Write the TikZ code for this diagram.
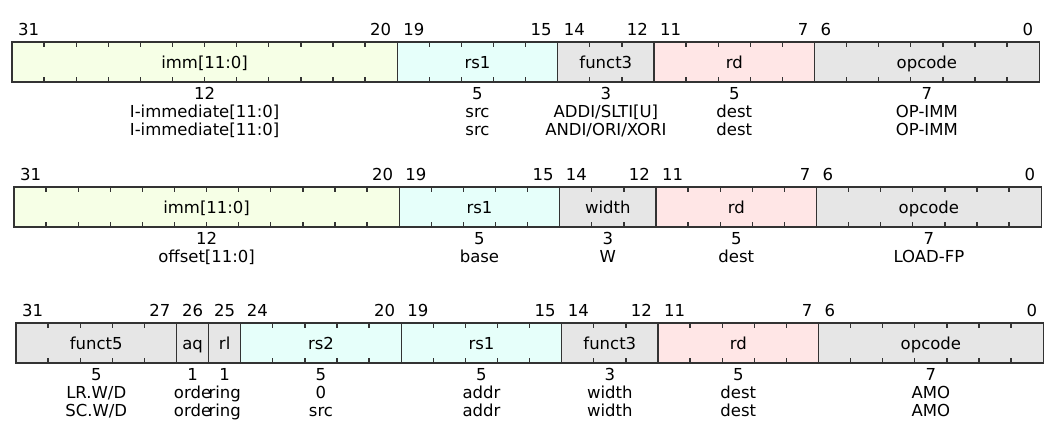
\documentclass[tikz,border=0pt]{standalone}
\usepackage{fontspec}
\setmainfont{DejaVu Sans}
\definecolor{immcol}{RGB}{246,255,230}
\definecolor{regcol}{RGB}{230,255,250}
\definecolor{dstcol}{RGB}{255,230,230}
\definecolor{fixcol}{RGB}{230,230,230}
\tikzset{
  field/.style={draw=black!80, line width=1.3pt, inner sep=0pt, outer sep=0pt,
    minimum height=40pt, text height=12pt, text depth=0pt, anchor=north west},
  bitno/.style={inner sep=0pt},
  desc/.style={align=center, inner sep=0pt, anchor=north, yshift=-5.5pt},
  tick/.style={draw=black!80, line width=1.3pt}
}
\begin{document}
\begin{tikzpicture}[x=1pt,y=-1pt,every node/.style={font=\fontsize{16.5}{18}\selectfont}]
  \useasboundingbox (0,0) rectangle (1055,439);
  \def\bw{32.1}
  % I-type: addi / andi
  \foreach \hi/\lo/\nm/\col/\txt in {
      31/20/{imm[11:0]}/immcol/{12\\I-immediate[11:0]\\I-immediate[11:0]},
      19/15/rs1/regcol/{5\\src\\src},
      14/12/funct3/fixcol/{3\\ADDI/SLTI[U]\\ANDI/ORI/XORI},
      11/7/rd/dstcol/{5\\dest\\dest},
      6/0/opcode/fixcol/{7\\OP-IMM\\OP-IMM}}
  {
    \pgfmathsetmacro\xl{12+(31-\hi)*\bw}
    \pgfmathsetmacro\fw{(\hi-\lo+1)*\bw}
    \node[field, fill=\col, minimum width=\fw pt] (a-\hi) at (\xl,42) {\nm};
    \node[bitno, anchor=base west] (a-\hi-msb) at ([shift={(6,-7)}]a-\hi.north west) {\hi};
    \node[bitno, anchor=base east] (a-\hi-lsb) at ([shift={(-6,-7)}]a-\hi.north east) {\lo};
    \node[desc] (a-\hi-txt) at (a-\hi.south) {\txt};
  }
  \foreach \b in {1,...,31}
    \draw[tick] ({12+\b*\bw},42) -- ++(0,5) ({12+\b*\bw},82) -- ++(0,-5);

  % load fp
  \foreach \hi/\lo/\nm/\col/\txt in {
      31/20/{imm[11:0]}/immcol/{12\\offset[11:0]},
      19/15/rs1/regcol/{5\\base},
      14/12/width/fixcol/{3\\W},
      11/7/rd/dstcol/{5\\dest},
      6/0/opcode/fixcol/{7\\LOAD-FP}}
  {
    \pgfmathsetmacro\xl{14+(31-\hi)*\bw}
    \pgfmathsetmacro\fw{(\hi-\lo+1)*\bw}
    \node[field, fill=\col, minimum width=\fw pt] (b-\hi) at (\xl,187) {\nm};
    \node[bitno, anchor=base west] (b-\hi-msb) at ([shift={(6,-7)}]b-\hi.north west) {\hi};
    \node[bitno, anchor=base east] (b-\hi-lsb) at ([shift={(-6,-7)}]b-\hi.north east) {\lo};
    \node[desc] (b-\hi-txt) at (b-\hi.south) {\txt};
  }
  \foreach \b in {1,...,31}
    \draw[tick] ({14+\b*\bw},187) -- ++(0,5) ({14+\b*\bw},227) -- ++(0,-5);

  % atomics
  \foreach \hi/\lo/\nm/\col/\txt in {
      31/27/funct5/fixcol/{5\\LR.W/D\\SC.W/D},
      26/26/aq/fixcol/{1\\orde\\orde},
      25/25/rl/fixcol/{1\\ring\\ring},
      24/20/rs2/regcol/{5\\0\\src},
      19/15/rs1/regcol/{5\\addr\\addr},
      14/12/funct3/fixcol/{3\\width\\width},
      11/7/rd/dstcol/{5\\dest\\dest},
      6/0/opcode/fixcol/{7\\AMO\\AMO}}
  {
    \pgfmathsetmacro\xl{16+(31-\hi)*\bw}
    \pgfmathsetmacro\fw{(\hi-\lo+1)*\bw}
    \node[field, fill=\col, minimum width=\fw pt] (c-\hi) at (\xl,323) {\nm};
    \ifnum\hi=\lo
      \node[bitno, anchor=base] (c-\hi-msb) at ([shift={(0,-7)}]c-\hi.north) {\hi};
    \else
      \node[bitno, anchor=base west] (c-\hi-msb) at ([shift={(6,-7)}]c-\hi.north west) {\hi};
      \node[bitno, anchor=base east] (c-\hi-lsb) at ([shift={(-6,-7)}]c-\hi.north east) {\lo};
    \fi
    \node[desc] (c-\hi-txt) at (c-\hi.south) {\txt};
  }
  \foreach \b in {1,...,31}
    \draw[tick] ({16+\b*\bw},323) -- ++(0,5) ({16+\b*\bw},363) -- ++(0,-5);
\end{tikzpicture}
\end{document}
